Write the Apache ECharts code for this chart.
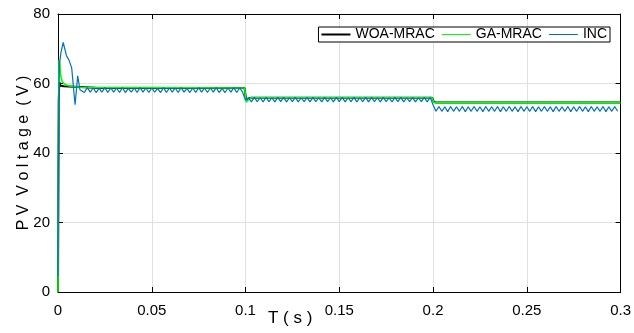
<!DOCTYPE html>
<html>
<head>
<meta charset="utf-8">
<script src="https://cdn.jsdelivr.net/npm/echarts@6/dist/echarts.min.js"></script>
<style>
  html, body { margin: 0; padding: 0; background: #fff; }
  #chart { width: 634px; height: 333px; }
</style>
</head>
<body>
<div id="chart"></div>
<script>
// tick labels
const xTicks = [0, 0.05, 0.1, 0.15, 0.2, 0.25, 0.3]
const yTicks = [0, 20, 40, 60, 80]

// WOA-MRAC (time, voltage)
const woaTime = [0, 0.0002, 0.0004, 0.0007, 0.0012, 0.003, 0.02, 0.0995, 0.1003, 0.1012, 0.103, 0.1995, 0.2004, 0.2015, 0.3]
const woaVolt = [0, 30, 55, 60.5, 59.4, 59.2, 58.8, 58.7, 55.4, 55.6, 55.9, 55.9, 54.8, 54.5, 54.5]

// GA-MRAC (time, voltage)
const gaTime = [0, 0.0002, 0.0004, 0.0006, 0.0009, 0.0014, 0.0022, 0.0035, 0.006, 0.012, 0.0995, 0.1004, 0.1015, 0.103, 0.1995, 0.2004, 0.2015, 0.3]
const gaVolt = [0, 35, 60, 66.8, 65.5, 62.5, 60.6, 59.8, 59.3, 58.9, 58.7, 54.6, 55.3, 55.9, 55.9, 54.6, 54.5, 54.5]

// INC start-up transient (time, voltage)
const incStartTime = [0, 0.0002, 0.0005, 0.0009, 0.0016, 0.0028, 0.0045, 0.0058, 0.0073, 0.0091, 0.0105, 0.0117]
const incStartVolt = [4.6, 35, 60, 66, 69, 71.8, 68, 66.8, 64.5, 53.9, 62.2, 58.2]

// INC steady ripple, sampled every half period from t = 0.0125
const incRippleStart = 0.0125
const incRippleStep = 0.0015625
const incRipple = [
  // 0.0125 .. 0.1
  58.7, 57.4, 58.8, 57.5, 58.7, 57.4, 58.6, 57.5, 58.8, 57.4,
  58.7, 57.5, 58.7, 57.4, 58.8, 57.4, 58.6, 57.5, 58.7, 57.4,
  58.8, 57.5, 58.7, 57.4, 58.7, 57.5, 58.6, 57.4, 58.8, 57.4,
  58.7, 57.5, 58.7, 57.4, 58.8, 57.5, 58.6, 57.4, 58.7, 57.4,
  58.8, 57.5, 58.7, 57.4, 58.7, 57.5, 58.8, 57.4, 58.6, 57.4,
  58.7, 57.5, 58.8, 57.4, 58.7, 57.5,
  // 0.1 .. 0.2
  55.2, 55.9, 54.7, 56.0, 54.8, 55.9, 54.7, 56.0, 54.8, 55.9,
  54.7, 56.0, 54.8, 56.0, 54.7, 55.9, 54.8, 56.0, 54.7, 55.9,
  54.8, 56.0, 54.7, 56.0, 54.8, 55.9, 54.7, 56.0, 54.8, 55.9,
  54.7, 56.0, 54.8, 56.0, 54.7, 55.9, 54.8, 56.0, 54.7, 55.9,
  54.8, 56.0, 54.7, 56.0, 54.8, 55.9, 54.7, 56.0, 54.8, 55.9,
  54.7, 56.0, 54.8, 56.0, 54.7, 55.9, 54.8, 56.0, 54.7, 55.9,
  54.8, 56.0, 54.7, 56.0,
  // 0.2 .. 0.3
  53.9, 52.0, 53.4, 52.0, 53.3, 51.9, 53.4, 52.0, 53.3, 52.0,
  53.4, 51.9, 53.3, 52.0, 53.4, 52.0, 53.3, 51.9, 53.4, 52.0,
  53.3, 52.0, 53.4, 51.9, 53.3, 52.0, 53.4, 52.0, 53.3, 51.9,
  53.4, 52.0, 53.3, 52.0, 53.4, 51.9, 53.3, 52.0, 53.4, 52.0,
  53.3, 51.9, 53.4, 52.0, 53.3, 52.0, 53.4, 51.9, 53.3, 52.0,
  53.4, 52.0, 53.3, 51.9, 53.4, 52.0, 53.3, 52.0, 53.4, 51.9,
  53.3, 52.0, 53.4, 52.0
]

const pairs = (t, v) => t.map((x, i) => [x, v[i]])
const incData = pairs(incStartTime, incStartVolt).concat(
  incRipple.map((v, i) => [incRippleStart + i * incRippleStep, v])
)

const font = '"Liberation Sans", Arial, sans-serif'
const chart = echarts.init(document.getElementById('chart'))

// plain line legend icons (degenerate points keep the box 30x14 so the bar stays thin)
const thickLine = 'path://M0,0L0,0ZM30,14L30,14ZM0,6H30V8H0Z'
const thinLine = 'path://M0,0L0,0ZM30,14L30,14ZM0,6.5H30V7.5H0Z'

const boxAxis = {
  axisLine: { show: true, onZero: false, lineStyle: { color: '#000', width: 1 } },
  axisTick: { show: true, inside: true, length: 5, lineStyle: { color: '#000' } },
  axisLabel: { show: false },
  splitLine: { show: false }
}

chart.setOption({
  animation: false,
  backgroundColor: '#fff',
  grid: { left: 58, right: 13, top: 14, bottom: 41 },
  legend: {
    right: 24,
    top: 27,
    orient: 'horizontal',
    backgroundColor: '#fff',
    borderColor: '#000',
    borderWidth: 1,
    borderRadius: 0,
    padding: [0, 3, 0, 3],
    itemGap: 7,
    itemWidth: 29,
    itemHeight: 14,
    textStyle: { fontFamily: font, fontSize: 14, color: '#000', lineHeight: 15 },
    data: [
      { name: 'WOA-MRAC', icon: thickLine },
      { name: 'GA-MRAC', icon: thinLine },
      { name: 'INC', icon: thinLine }
    ]
  },
  xAxis: [
    {
      type: 'value',
      min: 0,
      max: 0.3,
      interval: 0.05,
      axisLine: { show: true, onZero: false, lineStyle: { color: '#000' } },
      axisTick: { inside: true, length: 5, lineStyle: { color: '#000' } },
      axisLabel: {
        fontFamily: font,
        fontSize: 15,
        color: '#000',
        margin: 11,
        formatter: (v) => xTicks.find((t) => Math.abs(t - v) < 1e-9).toString()
      },
      splitLine: { show: true, lineStyle: { color: '#e0e0e0', width: 1 } }
    },
    Object.assign({ type: 'value', position: 'top', min: 0, max: 0.3, interval: 0.05 }, boxAxis)
  ],
  yAxis: [
    {
      type: 'value',
      min: 0,
      max: 80,
      interval: 20,
      name: 'P V  V o l t a g e  ( V )',
      nameLocation: 'middle',
      nameGap: 26,
      nameMoveOverlap: false,
      nameTextStyle: { fontFamily: font, fontSize: 16, color: '#000' },
      axisLine: { show: true, onZero: false, lineStyle: { color: '#000' } },
      axisTick: { show: true, inside: true, length: 5, lineStyle: { color: '#000' } },
      axisLabel: {
        fontFamily: font,
        fontSize: 15,
        color: '#000',
        margin: 8,
        formatter: (v) => yTicks.find((t) => t === v).toString()
      },
      splitLine: { show: true, lineStyle: { color: '#e0e0e0', width: 1 } }
    },
    Object.assign({ type: 'value', position: 'right', min: 0, max: 80, interval: 20 }, boxAxis)
  ],
  graphic: [
    {
      type: 'text',
      left: 268,
      top: 310,
      style: { text: 'T ( s )', fontFamily: font, fontSize: 17, fill: '#000' }
    }
  ],
  series: [
    {
      name: 'WOA-MRAC',
      type: 'line',
      symbol: 'none',
      data: pairs(woaTime, woaVolt),
      lineStyle: { color: '#000', width: 2 },
      itemStyle: { color: '#000' }
    },
    {
      name: 'GA-MRAC',
      type: 'line',
      symbol: 'none',
      data: pairs(gaTime, gaVolt),
      lineStyle: { color: '#00ff00', width: 1.6 },
      itemStyle: { color: '#00ff00' }
    },
    {
      name: 'INC',
      type: 'line',
      symbol: 'none',
      data: incData,
      lineStyle: { color: '#0072bd', width: 1.2 },
      itemStyle: { color: '#0072bd' }
    }
  ]
})
</script>
</body>
</html>
